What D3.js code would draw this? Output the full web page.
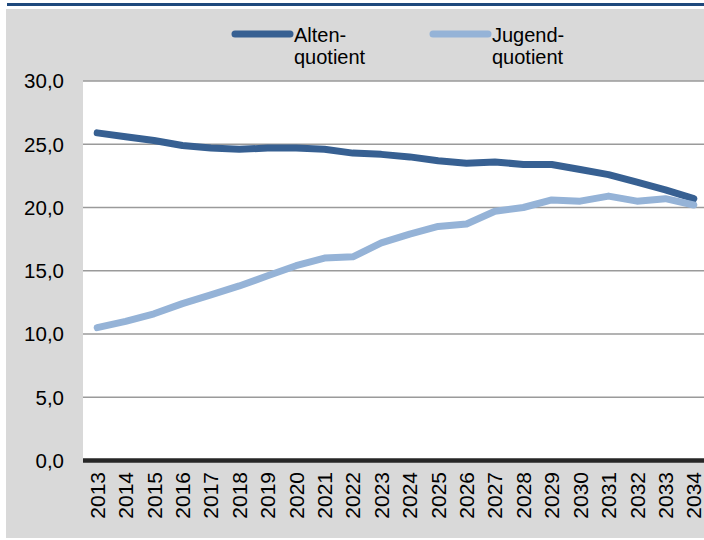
<!DOCTYPE html>
<html><head><meta charset="utf-8">
<script src="https://cdn.jsdelivr.net/npm/d3@7"></script>
<style>html,body{margin:0;padding:0;background:#fff;}svg{display:block;font-family:"Liberation Sans",Arial,sans-serif;}</style>
</head><body>
<script>
const years = ["2013","2014","2015","2016","2017","2018","2019","2020","2021","2022","2023","2024","2025","2026","2027","2028","2029","2030","2031","2032","2033","2034"];
const altenquotient = [25.9,25.6,25.3,24.9,24.7,24.6,24.7,24.7,24.6,24.3,24.2,24.0,23.7,23.5,23.6,23.4,23.4,23.0,22.6,22.0,21.4,20.7];
const jugendquotient = [10.5,11.0,11.6,12.4,13.1,13.8,14.6,15.4,16.0,16.1,17.2,17.9,18.5,18.7,19.7,20.0,20.6,20.5,20.9,20.5,20.7,20.2];
const yTicks = [0,5,10,15,20,25,30];
const seriesNames = [["Alten-","quotient"],["Jugend-","quotient"]];
const colors = ["#376092","#95B3D7"];

const W=704,H=540;
const svg=d3.select("body").append("svg").attr("width",W).attr("height",H);
svg.append("rect").attr("x",6).attr("y",9).attr("width",W-6).attr("height",529).attr("fill","#D9D9D9");
svg.append("rect").attr("x",7).attr("y",3).attr("width",W-7).attr("height",3).attr("fill","#1F497D");

const L=83,R=708,T=81,B=460.5;
const x=d3.scaleBand().domain(years).range([L,R]);
const y=d3.scaleLinear().domain([0,30]).range([B,T]);
const cx=d=>x(d)+x.bandwidth()/2;

svg.append("rect").attr("x",L).attr("y",T).attr("width",R-L).attr("height",B-T).attr("fill","#fff");

svg.append("g").selectAll("line").data(yTicks.filter(d=>d>0)).join("line")
  .attr("x1",L).attr("x2",R).attr("y1",d=>y(d)).attr("y2",d=>y(d))
  .attr("stroke","#9a9a9a").attr("stroke-width",1.3);

svg.append("line").attr("x1",L).attr("x2",R).attr("y1",y(0)).attr("y2",y(0))
  .attr("stroke","#262626").attr("stroke-width",4.5);

svg.append("g").selectAll("text").data(yTicks).join("text")
  .attr("x",64).attr("y",d=>y(d)).attr("dy","0.36em").attr("text-anchor","end")
  .attr("font-size",20.5).attr("fill","#000")
  .text(d=>d3.format(".1f")(d).replace(".",","));

svg.append("g").selectAll("text").data(years).join("text")
  .attr("transform",d=>`translate(${cx(d)},472) rotate(-90)`)
  .attr("dy","0.36em").attr("text-anchor","end")
  .attr("font-size",21).attr("fill","#000").text(d=>d);

const line=d3.line().x((d,i)=>cx(years[i])).y(d=>y(d));
[altenquotient,jugendquotient].forEach((s,k)=>{
  svg.append("path").datum(s).attr("d",line).attr("fill","none")
    .attr("stroke",colors[k]).attr("stroke-width",7)
    .attr("stroke-linecap","round").attr("stroke-linejoin","round");
});

const leg=[{x1:235,x2:290,tx:294},{x1:433,x2:488,tx:492}];
leg.forEach((g,k)=>{
  svg.append("line").attr("x1",g.x1).attr("x2",g.x2).attr("y1",34).attr("y2",34)
    .attr("stroke",colors[k]).attr("stroke-width",7).attr("stroke-linecap","round");
  const t=svg.append("text").attr("x",g.tx).attr("y",42).attr("font-size",20).attr("fill","#000");
  seriesNames[k].forEach((ln,j)=>{
    t.append("tspan").attr("x",g.tx).attr("dy",j===0?0:22).text(ln);
  });
});
</script>
</body></html>
